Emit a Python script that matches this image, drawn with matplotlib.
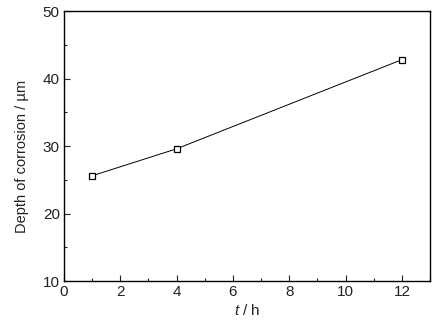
import matplotlib
matplotlib.use("Agg")
import matplotlib.pyplot as plt
from matplotlib.ticker import MultipleLocator

plt.rcParams['font.family'] = ['Liberation Sans', 'DejaVu Sans']
plt.rcParams['mathtext.fontset'] = 'custom'
plt.rcParams['mathtext.it'] = 'Liberation Sans:italic'
plt.rcParams['mathtext.rm'] = 'Liberation Sans'

t = [1, 4, 12]
depth = [25.6, 29.6, 42.8]

fig = plt.figure(figsize=(4.38, 3.25), dpi=100)
ax = fig.add_axes([0.146, 0.135, 0.836, 0.831])

ax.plot(t, depth, '-', color='black', lw=0.7)
ax.plot(t, depth, 's', markersize=5, markerfacecolor='white',
        markeredgecolor='black', markeredgewidth=0.9)

ax.set_xlim(0, 13)
ax.set_ylim(10, 50)
ax.xaxis.set_major_locator(MultipleLocator(2))
ax.xaxis.set_minor_locator(MultipleLocator(1))
ax.yaxis.set_major_locator(MultipleLocator(10))
ax.yaxis.set_minor_locator(MultipleLocator(5))
ax.tick_params(which='both', direction='in', top=False, right=False,
               labelsize=11, colors='#222222', width=0.8)
ax.tick_params(which='major', length=4, pad=3)
ax.tick_params(which='minor', length=2)
for s in ax.spines.values():
    s.set_linewidth(1.0)

ax.set_xlabel("$t$ / h", fontsize=11, labelpad=3, color='#222222')
ax.set_ylabel("Depth of corrosion / µm", fontsize=10.5, color='#222222')
ax.yaxis.set_label_coords(-0.096, 0.46)

fig.savefig("out.png", dpi=100)
